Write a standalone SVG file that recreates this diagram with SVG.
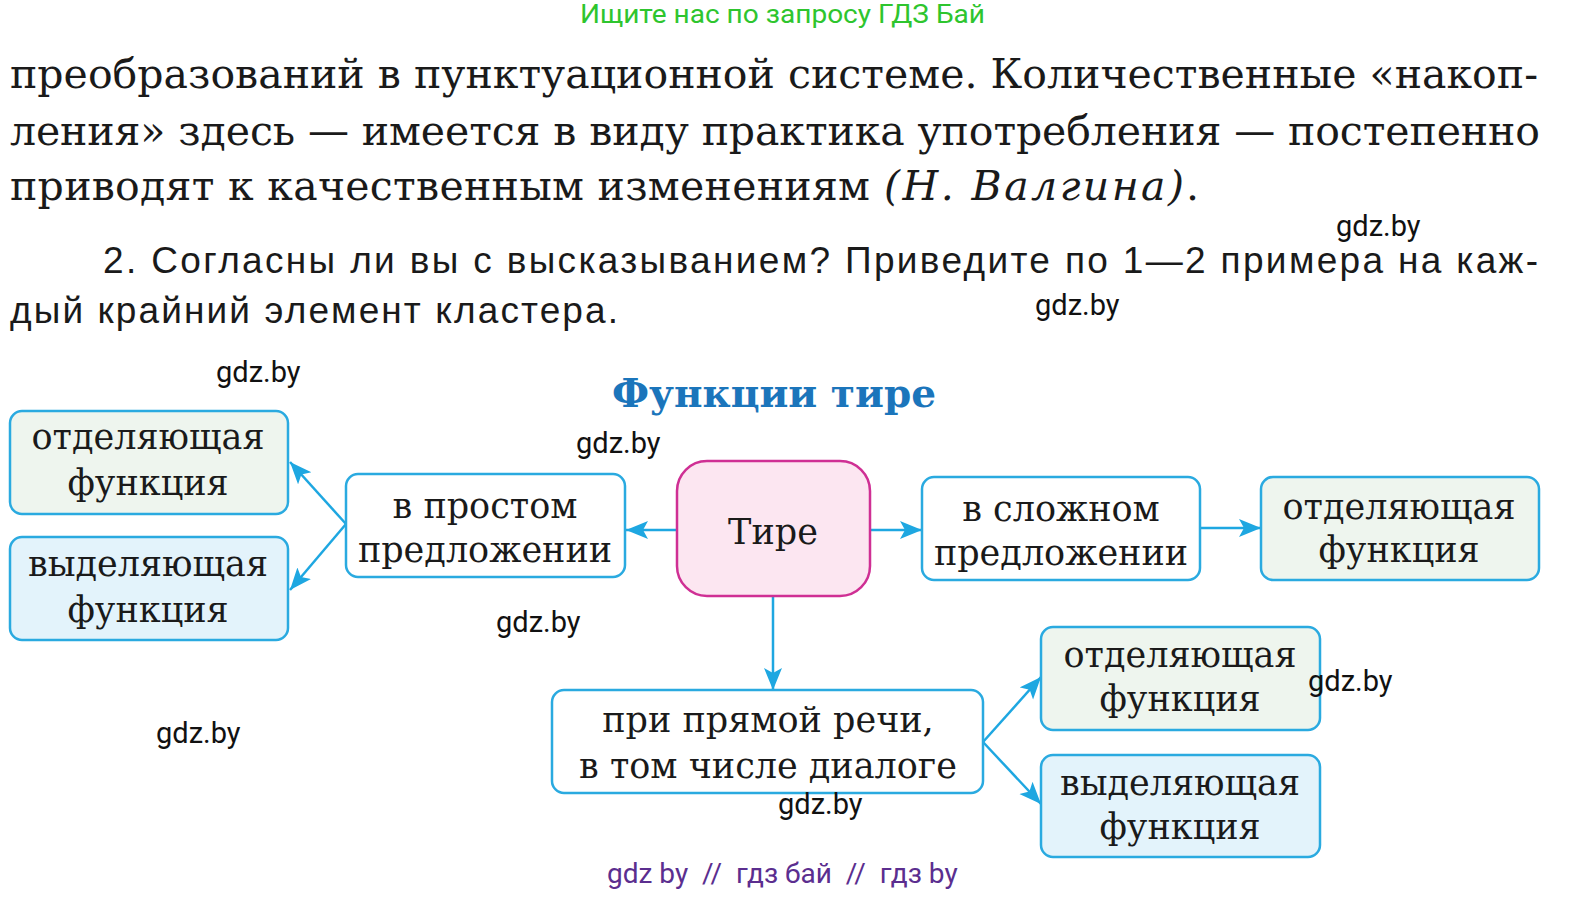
<svg xmlns="http://www.w3.org/2000/svg" width="1584" height="901" viewBox="0 0 1584 901">
<defs>
<style>
.body{font-family:"DejaVu Serif","Liberation Serif",serif;font-size:41px;fill:#1a1a1a}
.task{font-family:"Liberation Sans",Arial,sans-serif;font-size:37px;fill:#1a1a1a}
.wm{font-family:Roboto,"Liberation Sans",sans-serif;font-size:29px;fill:#111}
.box{stroke:#2aaae0;stroke-width:2.5}
.bt{font-family:"DejaVu Serif","Liberation Serif",serif;font-size:35px;fill:#1a1a1a;text-anchor:middle}
.con{stroke:#1ea7e1;stroke-width:2.5;fill:none}
</style>
<marker id="ah" markerUnits="userSpaceOnUse" markerWidth="24" markerHeight="20" refX="22" refY="9" orient="auto">
<path d="M0,0 L22,9 L0,18 L5,9 z" fill="#1ea7e1"/>
</marker>
</defs>
<rect width="1584" height="901" fill="#fff"/>
<text x="580" y="23" font-family="Roboto,'Liberation Sans',sans-serif" font-size="26" fill="#2ec52e" textLength="405" lengthAdjust="spacingAndGlyphs">Ищите нас по запросу ГДЗ Бай</text>
<text class="body" x="10" y="88" textLength="1528" lengthAdjust="spacing">преобразований в пунктуационной системе. Количественные «накоп-</text>
<text class="body" x="10" y="145" textLength="1530" lengthAdjust="spacing">ления» здесь — имеется в виду практика употребления — постепенно</text>
<text class="body" y="200"><tspan x="10" textLength="860" lengthAdjust="spacing">приводят к качественным изменениям</tspan><tspan x="884" font-style="italic" textLength="300" lengthAdjust="spacing">(Н. Валгина)</tspan><tspan x="1186">.</tspan></text>
<text class="task" x="103" y="273" textLength="1435" lengthAdjust="spacing">2. Согласны ли вы с высказыванием? Приведите по 1—2 примера на каж-</text>
<text class="task" x="10" y="323" textLength="608" lengthAdjust="spacing">дый крайний элемент кластера.</text>
<text x="774" y="407" font-family="'DejaVu Serif','Liberation Serif',serif" font-weight="bold" font-size="39" fill="#1b75bb" text-anchor="middle">Функции тире</text>

<g id="connectors">
<line class="con" x1="346" y1="524" x2="290" y2="462" marker-end="url(#ah)"/>
<line class="con" x1="346" y1="524" x2="290" y2="590" marker-end="url(#ah)"/>
<line class="con" x1="677" y1="530" x2="626" y2="530" marker-end="url(#ah)"/>
<line class="con" x1="870" y1="530" x2="922" y2="530" marker-end="url(#ah)"/>
<line class="con" x1="1200" y1="528" x2="1261" y2="528" marker-end="url(#ah)"/>
<line class="con" x1="773" y1="596" x2="773" y2="690" marker-end="url(#ah)"/>
<line class="con" x1="983" y1="742" x2="1041" y2="677" marker-end="url(#ah)"/>
<line class="con" x1="983" y1="742" x2="1041" y2="804" marker-end="url(#ah)"/>
</g>

<g id="n-left-sep">
<rect class="box" x="10" y="411" width="278" height="103" rx="12" fill="#eef5ee"/>
<text class="bt" x="148" y="449">отделяющая</text>
<text class="bt" x="148" y="495">функция</text>
</g>
<g id="n-left-hl">
<rect class="box" x="10" y="537" width="278" height="103" rx="12" fill="#e3f3fb"/>
<text class="bt" x="148" y="576">выделяющая</text>
<text class="bt" x="148" y="622">функция</text>
</g>
<g id="n-simple">
<rect class="box" x="346" y="474" width="279" height="103" rx="12" fill="#fff"/>
<text class="bt" x="485" y="518">в простом</text>
<text class="bt" x="485" y="562">предложении</text>
</g>
<g id="n-tire">
<rect x="677" y="461" width="193" height="135" rx="30" fill="#fce6f1" stroke="#cf2f94" stroke-width="2.5"/>
<text class="bt" x="773" y="544" font-size="37">Тире</text>
</g>
<g id="n-complex">
<rect class="box" x="922" y="477" width="278" height="103" rx="12" fill="#fff"/>
<text class="bt" x="1061" y="521">в сложном</text>
<text class="bt" x="1061" y="565">предложении</text>
</g>
<g id="n-right-sep">
<rect class="box" x="1261" y="477" width="278" height="103" rx="12" fill="#eef5ee"/>
<text class="bt" x="1399" y="519">отделяющая</text>
<text class="bt" x="1399" y="562">функция</text>
</g>
<g id="n-direct">
<rect class="box" x="552" y="690" width="431" height="103" rx="12" fill="#fff"/>
<text class="bt" x="768" y="732">при прямой речи,</text>
<text class="bt" x="768" y="778">в том числе диалоге</text>
</g>
<g id="n-mid-sep">
<rect class="box" x="1041" y="627" width="279" height="103" rx="12" fill="#eef5ee"/>
<text class="bt" x="1180" y="667">отделяющая</text>
<text class="bt" x="1180" y="711">функция</text>
</g>
<g id="n-bot-hl">
<rect class="box" x="1041" y="755" width="279" height="102" rx="12" fill="#e3f3fb"/>
<text class="bt" x="1180" y="795">выделяющая</text>
<text class="bt" x="1180" y="839">функция</text>
</g>

<g id="watermarks">
<text class="wm" x="1336" y="236">gdz.by</text>
<text class="wm" x="1035" y="315">gdz.by</text>
<text class="wm" x="216" y="382">gdz.by</text>
<text class="wm" x="576" y="453">gdz.by</text>
<text class="wm" x="496" y="632">gdz.by</text>
<text class="wm" x="156" y="743">gdz.by</text>
<text class="wm" x="1308" y="691">gdz.by</text>
<text class="wm" x="778" y="814">gdz.by</text>
<text x="607" y="883" font-family="Roboto,'Liberation Sans',sans-serif" font-size="28" fill="#5b2e8f" xml:space="preserve">gdz by  //  гдз бай  //  гдз by</text>
</g>
</svg>
